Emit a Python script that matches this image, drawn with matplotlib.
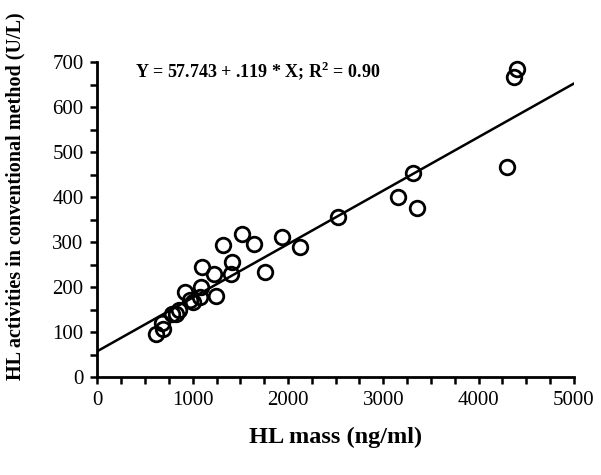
import matplotlib.pyplot as plt
import numpy as np
from matplotlib.ticker import MultipleLocator

# HL mass (ng/ml) vs HL activity (U/L)
hl_mass = [620, 690, 680, 780, 860, 830, 920, 970, 1075, 1090,
           1100, 1220, 1240, 1320, 1406, 1416, 1520, 1643, 1755, 1940,
           2122, 2523, 3152, 3310, 3351, 4295, 4375, 4400, 1000]
hl_activity = [97, 106, 120, 140, 150, 140, 190, 172, 178, 200,
               245, 230, 180, 293, 230, 256, 318, 297, 234, 312,
               289, 356, 401, 454, 375, 466, 667, 684, 168]

intercept = 57.743
slope = 0.119
equation = "Y = 57.743 + .119 * X; R$^\\mathbf{2}$ = 0.90"

plt.rcParams["font.family"] = "Liberation Serif"
plt.rcParams["mathtext.fontset"] = "custom"
plt.rcParams["mathtext.rm"] = "Liberation Serif"
plt.rcParams["mathtext.bf"] = "Liberation Serif:bold"

fig = plt.figure(figsize=(6.01, 4.75), dpi=100)
ax = fig.add_axes([0.162, 0.206, 0.793, 0.663])

xs = np.array([0, 5000])
ax.plot(xs, intercept + slope * xs, color="black", lw=1.8, zorder=2)
ax.plot(hl_mass, hl_activity, "o", mfc="none", mec="black", ms=10.5,
        mew=2.0, zorder=3, clip_on=False)

ax.set_xlim(0, 5000)
ax.set_ylim(0, 700)
ax.xaxis.set_major_locator(MultipleLocator(1000))
ax.xaxis.set_minor_locator(MultipleLocator(250))
ax.yaxis.set_major_locator(MultipleLocator(100))
ax.yaxis.set_minor_locator(MultipleLocator(50))
ax.tick_params(which="both", direction="out", length=5, width=1.8,
               labelsize=15, pad=5)

for s in ["top", "right"]:
    ax.spines[s].set_visible(False)
for s in ["left", "bottom"]:
    ax.spines[s].set_linewidth(2.0)

ax.text(392, 682, equation, fontsize=13, fontweight="bold", va="center")
ax.set_xlabel("HL mass (ng/ml)", fontsize=17.5, fontweight="bold", labelpad=12)
ax.set_ylabel("HL activities in conventional method (U/L)", fontsize=14.5,
              fontweight="bold")
ax.yaxis.set_label_coords(-0.150, 0.575)

fig.savefig("out.png", dpi=100)
